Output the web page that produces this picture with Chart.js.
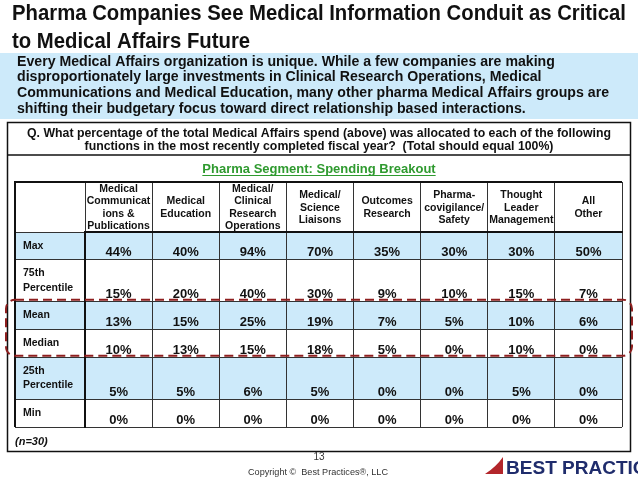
<!DOCTYPE html>
<html lang="en">
<head>
<meta charset="utf-8">
<script src="https://cdn.jsdelivr.net/npm/chart.js@4.4.1/dist/chart.umd.min.js"></script>
<style>
    html, body { margin: 0; padding: 0; background: #fff; }
    #slide { display: block; }
</style>
</head>
<body>

<canvas id="slide" width="638" height="479"></canvas>

<script>
    // Pharma segment: share of Medical Affairs spend by function (n=30)
    const functions = [
        ["Medical", "Communicat", "ions &", "Publications"],
        ["Medical", "Education"],
        ["Medical/", "Clinical", "Research", "Operations"],
        ["Medical/", "Science", "Liaisons"],
        ["Outcomes", "Research"],
        ["Pharma-", "covigilance/", "Safety"],
        ["Thought", "Leader", "Management"],
        ["All", "Other"]
    ];
    const statistics = [["Max"], ["75th", "Percentile"], ["Mean"], ["Median"], ["25th", "Percentile"], ["Min"]];
    const maxPct    = [44, 40, 94, 70, 35, 30, 30, 50];
    const p75Pct    = [15, 20, 40, 30,  9, 10, 15,  7];
    const meanPct   = [13, 15, 25, 19,  7,  5, 10,  6];
    const medianPct = [10, 13, 15, 18,  5,  0, 10,  0];
    const p25Pct    = [ 5,  5,  6,  5,  0,  0,  5,  0];
    const minPct    = [ 0,  0,  0,  0,  0,  0,  0,  0];
    const highlighted = ["Mean", "Median"];
    const sampleSize = 30;

    const titleLines = [
        "Pharma Companies See Medical Information Conduit as Critical",
        "to Medical Affairs Future"
    ];
    const leadLines = [
        "Every Medical Affairs organization is unique. While a few companies are making",
        "disproportionately large investments in Clinical Research Operations, Medical",
        "Communications and Medical Education, many other pharma Medical Affairs groups are",
        "shifting their budgetary focus toward direct relationship based interactions."
    ];
    const questionLines = [
        "Q. What percentage of the total Medical Affairs spend (above) was allocated to each of the following",
        "functions in the most recently completed fiscal year?  (Total should equal 100%)"
    ];
    const tableTitle = "Pharma Segment: Spending Breakout";

    const BLUE = "#cdeafa";
    const INK = "#111";
    const SANS = '"Liberation Sans", Arial, sans-serif';

    // a row with a two line label is one unit taller than a one line row
    const rowValues = [maxPct, p75Pct, meanPct, medianPct, p25Pct, minPct];
    const rowEdge = [0];
    statistics.forEach(s => rowEdge.push(rowEdge[rowEdge.length - 1] + s.length + 1));

    // draw lines squeezed so the widest one gets the given width
    function textBlock(ctx, lines, font, x, y, step, align, width) {
        ctx.font = font;
        const widest = Math.max(...lines.map(l => ctx.measureText(l).width));
        const k = width / widest;
        ctx.textAlign = align;
        ctx.textBaseline = "alphabetic";
        lines.forEach((l, i) => {
            ctx.save();
            ctx.translate(x, y + i * step);
            ctx.scale(k, 1);
            ctx.fillText(l, 0, 0);
            ctx.restore();
        });
    }

    const slide = {
        id: "slide",
        beforeDraw(chart) {
            const {ctx, scales: {x, y}} = chart;
            ctx.save();
            ctx.fillStyle = "#fff";
            ctx.fillRect(0, 0, chart.width, chart.height);
            ctx.fillStyle = BLUE;
            ctx.fillRect(0, 53, chart.width, 66);
            statistics.forEach((s, j) => {
                if (j % 2) return;
                const top = y.getPixelForValue(rowEdge[j]);
                const bottom = y.getPixelForValue(rowEdge[j + 1]);
                ctx.fillRect(y.left, top, x.right - y.left, bottom - top);
            });
            ctx.restore();
        },
        afterDatasetsDraw(chart) {
            const ctx = chart.ctx;
            ctx.save();
            ctx.fillStyle = INK;
            ctx.font = "bold 13px " + SANS;
            ctx.textAlign = "center";
            ctx.textBaseline = "middle";
            chart.data.datasets.forEach((ds, j) => {
                chart.getDatasetMeta(j).data.forEach((pt, i) => {
                    ctx.fillText(ds.data[i].pct + "%", pt.x, pt.y - 7);
                });
            });
            ctx.restore();
        },
        afterDraw(chart) {
            const {ctx, scales: {x, y}} = chart;
            ctx.save();
            ctx.fillStyle = INK;
            textBlock(ctx, titleLines, "bold 22px " + SANS, 12, 19.5, 28, "left", 614);
            textBlock(ctx, leadLines, "bold 14px " + SANS, 17, 65.5, 15.7, "left", 592);
            textBlock(ctx, questionLines, "bold 12.5px " + SANS, 319, 137, 12.5, "center", 584);

            // question box and table frame
            ctx.strokeStyle = INK;
            ctx.lineWidth = 1.5;
            ctx.strokeRect(7.5, 122.5, 623, 329);
            ctx.beginPath();
            ctx.moveTo(7.5, 155);
            ctx.lineTo(630.5, 155);
            ctx.stroke();
            ctx.lineWidth = 2;
            ctx.beginPath();
            ctx.moveTo(y.left, y.bottom);
            ctx.lineTo(y.left, x.top);
            ctx.lineTo(x.right, x.top);
            ctx.stroke();

            // table title, green and underlined
            ctx.fillStyle = "#2f9a2f";
            ctx.strokeStyle = "#2f9a2f";
            ctx.font = "bold 13px " + SANS;
            ctx.textAlign = "center";
            ctx.fillText(tableTitle, 319, 173);
            const tw = ctx.measureText(tableTitle).width;
            ctx.lineWidth = 1;
            ctx.beginPath();
            ctx.moveTo(319 - tw / 2, 175.5);
            ctx.lineTo(319 + tw / 2, 175.5);
            ctx.stroke();

            // row labels
            ctx.fillStyle = INK;
            ctx.font = "bold 10.5px " + SANS;
            ctx.textAlign = "left";
            ctx.textBaseline = "middle";
            statistics.forEach((s, j) => {
                const mid = y.getPixelForValue((rowEdge[j] + rowEdge[j + 1]) / 2);
                s.forEach((line, k) => {
                    ctx.fillText(line, y.left + 8, mid + (k - (s.length - 1) / 2) * 14.5);
                });
            });

            // dashed frame round the highlighted rows
            const first = statistics.findIndex(s => s.join(" ") === highlighted[0]);
            const last = statistics.findIndex(s => s.join(" ") === highlighted[highlighted.length - 1]);
            const top = y.getPixelForValue(rowEdge[first]) - 2;
            const bottom = y.getPixelForValue(rowEdge[last + 1]) - 1.5;
            ctx.strokeStyle = "#8e1f1f";
            ctx.lineWidth = 2;
            ctx.setLineDash([9, 5]);
            ctx.beginPath();
            ctx.roundRect(6, top, 626, bottom - top, 9);
            ctx.stroke();
            ctx.setLineDash([]);

            ctx.textBaseline = "alphabetic";
            ctx.font = "italic bold 11px " + SANS;
            ctx.fillText("(n=" + sampleSize + ")", 15, 445);

            // footer
            ctx.fillStyle = "#333";
            ctx.textAlign = "center";
            ctx.font = "10px " + SANS;
            ctx.fillText("13", 319, 460);
            textBlock(ctx, ["Copyright \u00a9  Best Practices\u00ae, LLC"], "9.5px " + SANS, 318, 475, 0, "center", 140);

            ctx.fillStyle = "#b3262b";
            ctx.beginPath();
            ctx.moveTo(485, 474);
            ctx.quadraticCurveTo(496, 467, 503, 457);
            ctx.lineTo(503, 474);
            ctx.closePath();
            ctx.fill();
            ctx.fillStyle = "#1f2c6c";
            textBlock(ctx, ["BEST PRACTICES"], "bold 19px " + SANS, 506, 474, 0, "left", 166);
            ctx.restore();
        }
    };

    const datasets = statistics.map((s, j) => ({
        label: s.join(" "),
        data: rowValues[j].map((v, i) => ({x: i, y: rowEdge[j + 1], pct: v})),
        showLine: false,
        pointRadius: 0,
        pointHoverRadius: 0
    }));

    new Chart(document.getElementById("slide"), {
        type: "line",
        data: {labels: functions, datasets: datasets},
        options: {
            responsive: false,
            animation: false,
            events: [],
            layout: {padding: {left: 15, right: 16, top: 182, bottom: 52}},
            plugins: {legend: {display: false}, tooltip: {enabled: false}},
            scales: {
                x: {
                    type: "category",
                    position: "top",
                    offset: true,
                    afterFit: axis => { axis.height = 50; },
                    grid: {offset: true, color: "#333", lineWidth: 1, tickLength: 50, tickColor: "#333"},
                    border: {color: INK, width: 2},
                    ticks: {
                        autoSkip: false,
                        maxRotation: 0,
                        crossAlign: "center",
                        padding: -44.5,
                        color: INK,
                        font: {family: SANS, size: 10.5, weight: "bold", lineHeight: "12.5px"}
                    }
                },
                y: {
                    type: "linear",
                    reverse: true,
                    min: 0,
                    max: rowEdge[rowEdge.length - 1],
                    afterBuildTicks: axis => { axis.ticks = rowEdge.map(v => ({value: v})); },
                    afterFit: axis => { axis.width = 70; },
                    grid: {color: "#333", lineWidth: 1, tickLength: 70, tickColor: "#333"},
                    border: {color: INK, width: 2},
                    ticks: {display: false}
                }
            }
        },
        plugins: [slide]
    });
</script>

</body>
</html>
